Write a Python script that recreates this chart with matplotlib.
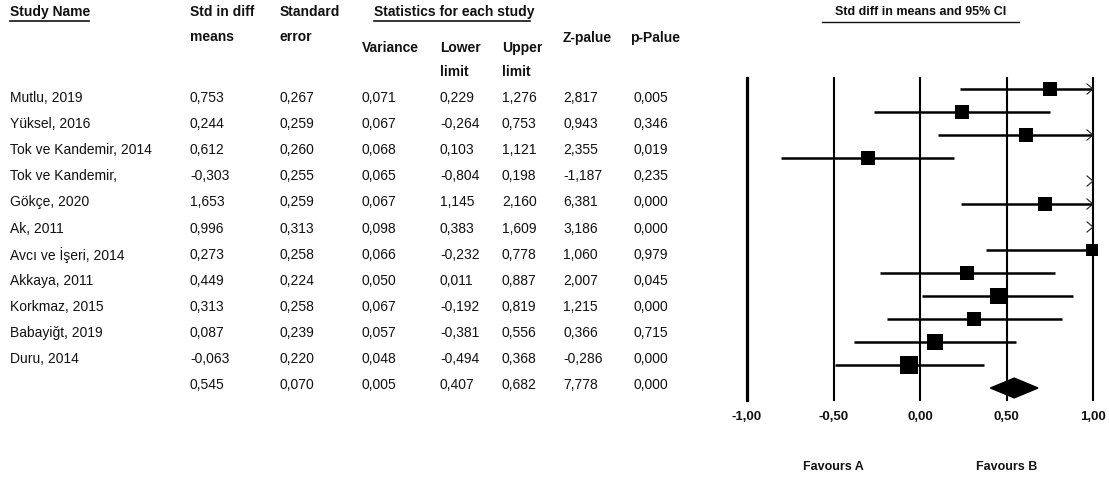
import matplotlib
matplotlib.use("Agg")
import matplotlib.pyplot as plt
import numpy as np

# ---------------- data ----------------
study_names = ["Mutlu, 2019", "Yüksel, 2016", "Tok ve Kandemir, 2014", "Tok ve Kandemir,",
               "Gökçe, 2020", "Ak, 2011", "Avcı ve İşeri, 2014", "Akkaya, 2011",
               "Korkmaz, 2015", "Babayiğt, 2019", "Duru, 2014", ""]
std_diff = ["0,753", "0,244", "0,612", "-0,303", "1,653", "0,996", "0,273", "0,449", "0,313", "0,087", "-0,063", "0,545"]
std_err = ["0,267", "0,259", "0,260", "0,255", "0,259", "0,313", "0,258", "0,224", "0,258", "0,239", "0,220", "0,070"]
variance = ["0,071", "0,067", "0,068", "0,065", "0,067", "0,098", "0,066", "0,050", "0,067", "0,057", "0,048", "0,005"]
lower_lim = ["0,229", "-0,264", "0,103", "-0,804", "1,145", "0,383", "-0,232", "0,011", "-0,192", "-0,381", "-0,494", "0,407"]
upper_lim = ["1,276", "0,753", "1,121", "0,198", "2,160", "1,609", "0,778", "0,887", "0,819", "0,556", "0,368", "0,682"]
z_value = ["2,817", "0,943", "2,355", "-1,187", "6,381", "3,186", "1,060", "2,007", "1,215", "0,366", "-0,286", "7,778"]
p_value = ["0,005", "0,346", "0,019", "0,235", "0,000", "0,000", "0,979", "0,045", "0,000", "0,715", "0,000", "0,000"]

# forest plot rows as drawn in the picture
plot_effect = [0.753, 0.244, 0.612, -0.303, 1.653, 0.720, 1.450, 0.996, 0.273, 0.449, 0.313, 0.087, -0.063]
plot_lower = [0.229, -0.264, 0.103, -0.804, 1.145, 0.235, 1.150, 0.383, -0.232, 0.011, -0.192, -0.381, -0.494]
plot_upper = [1.276, 0.753, 1.121, 0.198, 2.160, 1.300, 1.750, 1.609, 0.778, 0.887, 0.819, 0.556, 0.368]
plot_var = [0.071, 0.067, 0.068, 0.065, 0.067, 0.068, 0.066, 0.098, 0.066, 0.050, 0.067, 0.057, 0.048]
summary_effect, summary_lower, summary_upper = 0.545, 0.407, 0.682
x_ticks = [-1.0, -0.5, 0.0, 0.5, 1.0]
x_tick_labels = ["-1,00", "-0,50", "0,00", "0,50", "1,00"]

# ---------------- figure ----------------
W, H = 1109, 479
fig = plt.figure(figsize=(W / 100, H / 100), dpi=100)
FONT = "Liberation Sans"
TXT = "#111111"

tab = fig.add_axes([0, 0, 1, 1])
tab.set_xlim(0, W)
tab.set_ylim(H, 0)
tab.axis("off")

def t(x, y, s, bold=False, size=10, **kw):
    tab.text(x, y, s, fontsize=size, fontfamily=FONT, fontweight="bold" if bold else "normal",
             color=TXT, ha="left", va="center", **kw)

# headers
t(10, 12, "Study Name", bold=True)
tab.plot([10, 89], [21, 21], color=TXT, lw=1.2)
t(190, 12, "Std in diff", bold=True)
t(190, 37, "means", bold=True)
t(280, 12, "Standard", bold=True)
t(280, 37, "error", bold=True)
t(374, 12, "Statistics for each study", bold=True)
tab.plot([374, 530], [21, 21], color=TXT, lw=1.2)
t(362, 48, "Variance", bold=True)
t(440, 48, "Lower", bold=True)
t(440, 72, "limit", bold=True)
t(502, 48, "Upper", bold=True)
t(502, 72, "limit", bold=True)
t(563, 38, "Z-palue", bold=True)
t(630, 38, "p-Palue", bold=True)

row0, drow = 98, 26.1
cols = [(10, study_names), (190, std_diff), (280, std_err), (361, variance),
        (440, lower_lim), (502, upper_lim), (563, z_value), (634, p_value)]
for i in range(len(std_diff)):
    y = row0 + i * drow
    for x, arr in cols:
        t(x, y, arr[i])

# ---------------- forest plot ----------------
top_px, bot_px = 77.5, 399.5
ax = fig.add_axes([747 / W, (H - bot_px) / H, (1093 - 747) / W, (bot_px - top_px) / H])
ax.set_xlim(-1, 1)
ax.set_ylim(13.5, -0.5)
ax.axis("off")

for xv in x_ticks:
    ax.axvline(xv, color="black", lw=2.3 if xv == -1.0 else 1.5, clip_on=False)

px_per_unit = 346 / 2.0
chev_dx = 6 / px_per_unit
chev_dy = 0.22
for i, (e, lo, hi, v) in enumerate(zip(plot_effect, plot_lower, plot_upper, plot_var)):
    lo_c, hi_c = max(lo, -1), min(hi, 1)
    if lo_c < hi_c:
        ax.plot([lo_c, hi_c], [i, i], color="black", lw=1.8, solid_capstyle="butt", clip_on=False)
    if hi > 1:
        ax.plot([1 - chev_dx, 1, 1 - chev_dx], [i - chev_dy, i, i + chev_dy], color="#222222",
                lw=0.8, clip_on=False)
    if -1 <= e <= 1:
        side_px = 3.75 * np.sqrt(1 / v)
        ax.plot([e], [i], marker="s", color="black", markersize=side_px * 0.72, clip_on=False,
                markeredgewidth=0)

s_row = len(plot_effect)
h = 0.43
ax.fill([summary_lower, summary_effect, summary_upper, summary_effect],
        [s_row, s_row - h, s_row, s_row + h], color="black", clip_on=False)

def row_of(px):
    return (px - 89) / 23.0

for xv, lab in zip(x_ticks, x_tick_labels):
    ax.text(xv, row_of(417), lab, fontsize=9.5, fontweight="bold", fontfamily=FONT,
            ha="center", va="center", color=TXT, clip_on=False)

ax.text(-0.5, row_of(467), "Favours A", fontsize=9, fontweight="bold", fontfamily=FONT,
        ha="center", va="center", color=TXT, clip_on=False)
ax.text(0.5, row_of(467), "Favours B", fontsize=9, fontweight="bold", fontfamily=FONT,
        ha="center", va="center", color=TXT, clip_on=False)

tab.text(921, 12, "Std diff in means and 95% CI", fontsize=9, fontweight="bold", fontfamily=FONT,
         ha="center", va="center", color=TXT)
tab.plot([822, 1019], [21.5, 21.5], color=TXT, lw=1.0)

fig.savefig("out.png", dpi=100)
